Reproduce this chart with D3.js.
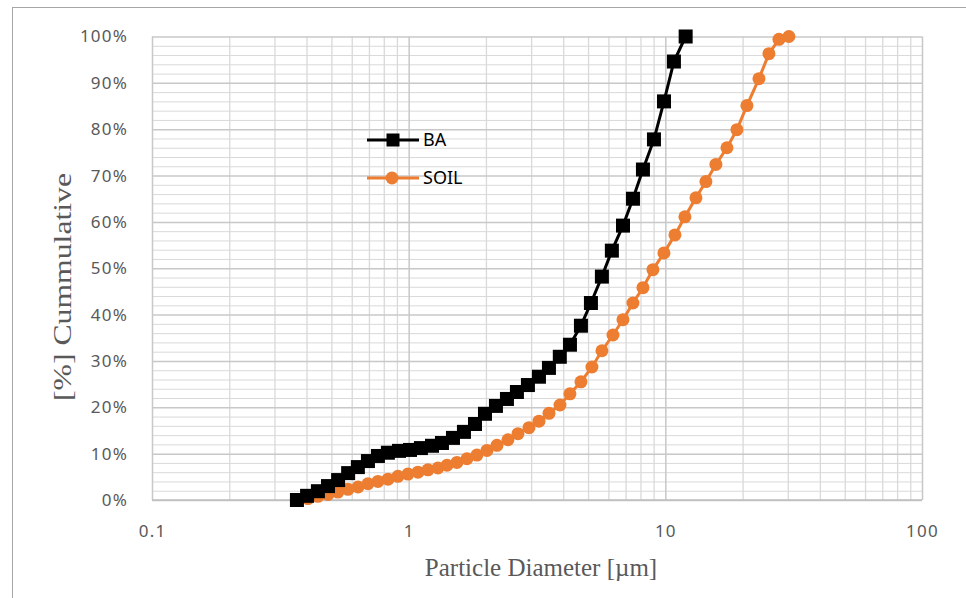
<!DOCTYPE html>
<html>
<head>
<meta charset="utf-8">
<script src="https://cdn.jsdelivr.net/npm/d3@7"></script>
<style>
  body { margin: 0; background: #fff; }
  svg { display: block; }
</style>
</head>
<body>
<div id="chart"></div>
<script>
// particle size (um) and cumulative %
const baSize = [0.367, 0.402, 0.443, 0.485, 0.531, 0.581, 0.634, 0.694, 0.759, 0.830, 0.917, 1.012, 1.116, 1.233, 1.348, 1.488, 1.642, 1.813, 1.983, 2.188, 2.415, 2.641, 2.915, 3.218, 3.52, 3.88, 4.25, 4.69, 5.13, 5.66, 6.19, 6.84, 7.48, 8.18, 9.03, 9.88, 10.8, 12.0];
const baCum = [0, 0.9, 1.9, 3.0, 4.3, 5.8, 7.1, 8.4, 9.5, 10.2, 10.6, 10.8, 11.2, 11.7, 12.3, 13.4, 14.7, 16.4, 18.6, 20.3, 21.8, 23.3, 24.8, 26.6, 28.5, 30.9, 33.5, 37.6, 42.5, 48.2, 53.8, 59.2, 65.0, 71.3, 77.8, 86.0, 94.6, 100];

const soilSize = [0.370, 0.405, 0.443, 0.485, 0.530, 0.580, 0.635, 0.694, 0.759, 0.831, 0.908, 0.994, 1.087, 1.189, 1.300, 1.410, 1.542, 1.687, 1.845, 2.019, 2.208, 2.437, 2.666, 2.943, 3.219, 3.521, 3.886, 4.250, 4.691, 5.177, 5.662, 6.252, 6.838, 7.479, 8.180, 8.947, 9.876, 10.90, 11.92, 13.16, 14.39, 15.74, 17.38, 19.01, 20.79, 23.16, 25.33, 27.71, 30.30];
const soilCum = [0, 0.3, 0.8, 1.2, 1.7, 2.3, 2.8, 3.5, 4.0, 4.5, 5.1, 5.6, 6.0, 6.5, 6.9, 7.5, 8.1, 8.9, 9.7, 10.7, 11.8, 13.0, 14.3, 15.6, 17.0, 18.7, 20.5, 22.9, 25.5, 28.7, 32.2, 35.6, 38.9, 42.5, 45.8, 49.7, 53.3, 57.2, 61.1, 65.2, 68.7, 72.4, 76.0, 79.9, 85.1, 90.9, 96.3, 99.4, 100];

const xTicks = [0.1, 1, 10, 100];
const yTicks = [0, 10, 20, 30, 40, 50, 60, 70, 80, 90, 100];
const seriesNames = ["BA", "SOIL"];

const width = 966, height = 598;
const plot = { left: 152, right: 922, top: 36.5, bot: 500 };
const orange = "#ED7D31";

const svg = d3.select("#chart").append("svg")
  .attr("width", width)
  .attr("height", height);

// outer chart frame (runs off the picture on the right and bottom)
svg.append("rect")
  .attr("x", 12.5).attr("y", 7.5)
  .attr("width", 1000).attr("height", 700)
  .attr("fill", "none")
  .attr("stroke", "#a6a6a6")
  .attr("stroke-width", 1);

const x = d3.scaleLog().domain([0.1, 100]).range([plot.left, plot.right]);
const y = d3.scaleLinear().domain([0, 100]).range([plot.bot, plot.top]);

// minor values
const xMinor = [];
[0.1, 1, 10].forEach(d => { for (let k = 2; k <= 9; k++) xMinor.push(d * k); });
const yMinor = d3.range(0, 101, 2).filter(v => v % 10 !== 0);

const plotW = plot.right - plot.left;
const plotH = plot.bot - plot.top;

// grid
svg.append("g")
  .attr("class", "grid")
  .attr("transform", "translate(0," + plot.bot + ")")
  .call(d3.axisBottom(x).tickValues(xMinor).tickSize(-plotH).tickFormat(""))
  .call(g => g.select(".domain").remove())
  .call(g => g.selectAll("line").attr("stroke", "#d9d9d9").attr("stroke-width", 1.3));
svg.append("g")
  .attr("transform", "translate(" + plot.left + ",0)")
  .call(d3.axisLeft(y).tickValues(yMinor).tickSize(-plotW).tickFormat(""))
  .call(g => g.select(".domain").remove())
  .call(g => g.selectAll("line").attr("stroke", "#d9d9d9").attr("stroke-width", 1));
svg.append("g")
  .attr("transform", "translate(0," + plot.bot + ")")
  .call(d3.axisBottom(x).tickValues(xTicks).tickSize(-plotH).tickFormat(""))
  .call(g => g.select(".domain").remove())
  .call(g => g.selectAll("line").attr("stroke", "#c8c8c8").attr("stroke-width", 1.5));
svg.append("g")
  .attr("transform", "translate(" + plot.left + ",0)")
  .call(d3.axisLeft(y).tickValues(yTicks).tickSize(-plotW).tickFormat(""))
  .call(g => g.select(".domain").remove())
  .call(g => g.selectAll("line").attr("stroke", "#c8c8c8").attr("stroke-width", 1.5));

// bottom axis line
svg.append("line")
  .attr("x1", plot.left).attr("x2", plot.right)
  .attr("y1", plot.bot).attr("y2", plot.bot)
  .attr("stroke", "#bfbfbf").attr("stroke-width", 1.5);

// tick labels
const yAxis = svg.append("g")
  .attr("transform", "translate(" + (plot.left - 21) + ",0)")
  .call(d3.axisLeft(y).tickValues(yTicks).tickSize(0).tickFormat(d => d + "%"));
yAxis.select(".domain").remove();
yAxis.selectAll("text")
  .attr("fill", "#595959")
  .style("font-family", "'Noto Sans', sans-serif")
  .style("font-size", "17px")
  .style("letter-spacing", "1.2px");

const xAxis = svg.append("g")
  .attr("transform", "translate(0," + (plot.bot + 22) + ")")
  .call(d3.axisBottom(x).tickValues(xTicks).tickSize(0).tickFormat(d => String(d)));
xAxis.select(".domain").remove();
xAxis.selectAll("text")
  .attr("fill", "#595959")
  .style("font-family", "'Noto Sans', sans-serif")
  .style("font-size", "17px")
  .style("letter-spacing", "1.2px");

// axis titles
svg.append("text")
  .text("Particle Diameter [µm]")
  .attr("x", 541)
  .attr("y", 576)
  .attr("text-anchor", "middle")
  .attr("fill", "#595959")
  .style("font-family", "'Liberation Serif', serif")
  .style("font-size", "25px");
svg.append("text")
  .text("[%] Cummulative")
  .attr("text-anchor", "middle")
  .attr("textLength", 228)
  .attr("lengthAdjust", "spacingAndGlyphs")
  .attr("transform", "translate(71,287)rotate(-90)")
  .attr("fill", "#595959")
  .style("font-family", "'Liberation Serif', serif")
  .style("font-size", "26px");

// series
const ba = baSize.map((d, i) => [d, baCum[i]]);
const soil = soilSize.map((d, i) => [d, soilCum[i]]);
const line = d3.line().x(d => x(d[0])).y(d => y(d[1]));

svg.append("path")
  .datum(soil)
  .attr("d", line)
  .attr("fill", "none")
  .attr("stroke", orange)
  .attr("stroke-width", 3);
svg.append("g")
  .selectAll("circle")
  .data(soil)
  .enter()
  .append("circle")
  .attr("cx", d => x(d[0]))
  .attr("cy", d => y(d[1]))
  .attr("r", 6.5)
  .attr("fill", orange);

svg.append("path")
  .datum(ba)
  .attr("d", line)
  .attr("fill", "none")
  .attr("stroke", "#000")
  .attr("stroke-width", 3);
const sq = 14;
svg.append("g")
  .selectAll("rect")
  .data(ba)
  .enter()
  .append("rect")
  .attr("x", d => x(d[0]) - sq / 2)
  .attr("y", d => y(d[1]) - sq / 2)
  .attr("width", sq)
  .attr("height", sq)
  .attr("fill", "#000");

// legend
const legend = svg.append("g").attr("transform", "translate(367,140)");
legend.append("line")
  .attr("x1", 0).attr("x2", 52).attr("y1", 0).attr("y2", 0)
  .attr("stroke", "#000").attr("stroke-width", 3);
legend.append("rect")
  .attr("x", 26 - 6.5).attr("y", -6.5).attr("width", 13).attr("height", 13)
  .attr("fill", "#000");
legend.append("line")
  .attr("x1", 0).attr("x2", 52).attr("y1", 38).attr("y2", 38)
  .attr("stroke", orange).attr("stroke-width", 3);
legend.append("circle")
  .attr("cx", 25).attr("cy", 38).attr("r", 6.5)
  .attr("fill", orange);
legend.selectAll("text.lab")
  .data(seriesNames)
  .enter()
  .append("text")
  .attr("class", "lab")
  .text(d => d)
  .attr("x", 56)
  .attr("y", (d, i) => i * 38)
  .attr("dy", "0.35em")
  .attr("fill", "#000")
  .style("font-family", "'Noto Sans', sans-serif")
  .style("font-size", "18px");
</script>
</body>
</html>
